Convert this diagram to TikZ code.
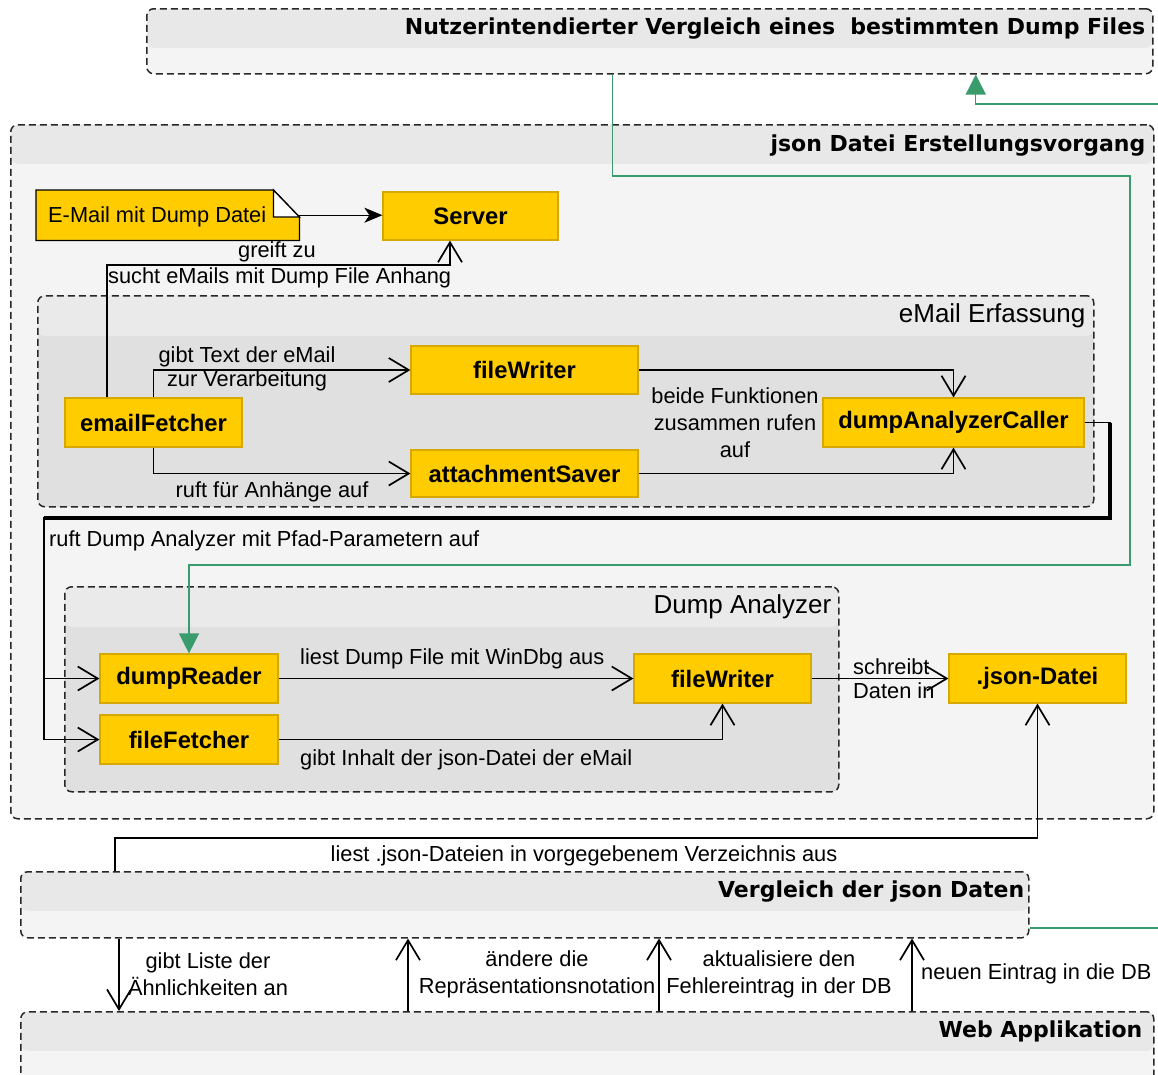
\documentclass[tikz,border=0pt]{standalone}
\usepackage{fontspec}
\setmainfont{Liberation Sans}
\newfontfamily\headfont{DejaVu Sans}
\usetikzlibrary{arrows.meta}
\definecolor{fnfill}{RGB}{255,204,0}
\definecolor{fnline}{RGB}{214,168,0}
\definecolor{grphead}{RGB}{232,232,232}
\definecolor{grpbody}{RGB}{244,244,244}
\definecolor{subhead}{RGB}{234,234,234}
\definecolor{subbody}{RGB}{224,224,224}
\definecolor{flowgreen}{RGB}{58,156,108}
\definecolor{dashgray}{RGB}{40,40,40}
\tikzset{
  grp/.style={draw=dashgray, line width=1.5pt, dash pattern=on 7pt off 4pt,
    rounded corners=7pt, inner sep=0pt, anchor=north west},
  outergrp/.style={grp, fill=grpbody, path picture={\fill[grphead]
    (path picture bounding box.north west) rectangle ([yshift=-39pt]path picture bounding box.north east);}},
  innergrp/.style={grp, fill=subbody, path picture={\fill[subhead]
    (path picture bounding box.north west) rectangle ([yshift=-40pt]path picture bounding box.north east);}},
  hd/.style={inner sep=0pt, anchor=east, font=\headfont\fontsize{22}{26}\selectfont\bfseries},
  subhd/.style={inner sep=0pt, anchor=east, font=\fontsize{26}{30}\selectfont},
  fn/.style={fill=fnfill, draw=fnline, line width=1.2pt, inner sep=0pt,
    font=\fontsize{23.8}{26}\selectfont\bfseries},
  lbl/.style={inner sep=0pt, align=center, font=\fontsize{21.8}{26}\selectfont},
  conn/.style={draw=black, line width=1.4pt, -{Straight Barb[length=20pt,width=24pt,line width=1.7pt]}},
  filledarr/.style={draw=black, line width=1.4pt, -{Stealth[length=18pt,width=15pt,inset=5pt]}},
  flow/.style={draw=flowgreen, line width=1.4pt, -{Triangle[length=20pt,width=20pt]}},
  flowline/.style={draw=flowgreen, line width=1.4pt}
}
\begin{document}
\begin{tikzpicture}[x=1pt,y=-1pt]
\useasboundingbox (0,0) rectangle (1158,1074);
\fill[white] (0,0) rectangle (1158,1074);
\clip (0,0) rectangle (1158,1074);

\node[outergrp, minimum width=1006pt, minimum height=65pt] (nutzer) at (146,8) {};
\node[outergrp, minimum width=1143pt, minimum height=694pt] (jsonproc) at (10,124) {};
\node[innergrp, minimum width=1056pt, minimum height=211pt] (mail) at (37,295) {};
\node[innergrp, minimum width=774pt, minimum height=205pt] (dump) at (64,586) {};
\node[outergrp, minimum width=1008pt, minimum height=66pt] (vgl) at (20,871) {};
\node[outergrp, minimum width=1133pt, minimum height=90pt] (web) at (20,1011) {};

\node[hd] (nutzerT) at ([xshift=-8pt,yshift=-21pt]nutzer.north east) {Nutzerintendierter Vergleich eines\ \ bestimmten Dump Files};
\node[hd] (jsonprocT) at ([xshift=-9pt,yshift=-22pt]jsonproc.north east) {json Datei Erstellungsvorgang};
\node[subhd] (mailT) at ([xshift=-9pt,yshift=-21pt]mail.north east) {eMail Erfassung};
\node[subhd] (dumpT) at ([xshift=-8pt,yshift=-21pt]dump.north east) {Dump Analyzer};
\node[hd] (vglT) at ([xshift=-5pt,yshift=-21pt]vgl.north east) {Vergleich der json Daten};
\node[hd] (webT) at ([xshift=-12pt,yshift=-20pt]web.north east) {Web Applikation};

\node[minimum width=263pt, minimum height=50pt, inner sep=0pt, anchor=north west] (note) at (36,190) {};
\filldraw[fill=fnfill, draw=black, line width=1.3pt] (note.north west) -- ([xshift=-26pt]note.north east)
  -- ([yshift=-27pt]note.north east) -- (note.south east) -- (note.south west) -- cycle;
\filldraw[fill=white, draw=black, line width=1.3pt] ([xshift=-26pt]note.north east)
  -- ([xshift=-26pt,yshift=-27pt]note.north east) -- ([yshift=-27pt]note.north east) -- cycle;
\node[lbl, anchor=west] (noteT) at ([xshift=12pt,yshift=-2pt]note.west) {E-Mail mit Dump Datei};

\node[fn, minimum width=175pt, minimum height=48pt] (server) at (470.5,216) {Server};
\node[fn, minimum width=177pt, minimum height=49pt] (emf) at (153.5,422.5) {emailFetcher};
\node[fn, minimum width=227pt, minimum height=48pt] (fw1) at (524.5,370) {fileWriter};
\node[fn, minimum width=227pt, minimum height=47pt] (att) at (524.5,473.5) {attachmentSaver};
\node[fn, minimum width=261pt, minimum height=49pt] (dac) at (953.5,422.5) {dumpAnalyzerCaller};
\node[fn, minimum width=178pt, minimum height=49pt] (drd) at (189,678.5) {dumpReader};
\node[fn, minimum width=178pt, minimum height=49pt] (ffe) at (189,739.5) {fileFetcher};
\node[fn, minimum width=177pt, minimum height=49pt] (fw2) at (722.5,678.5) {fileWriter};
\node[fn, minimum width=177pt, minimum height=49pt] (json) at (1037.5,678.5) {.json-Datei};

\draw[filledarr] (note.east) -- (note.east -| server.west);

\coordinate (srvbend) at (450,265);
\draw[conn] ([xshift=-46.5pt]emf.north) |- (srvbend) -- ([xshift=-20.5pt]server.south);
\node[lbl] (greiftT) at (277,252) {greift zu};
\node[lbl, anchor=west] (suchtT) at (108,278) {sucht eMails mit Dump File Anhang};

\draw[conn] (emf.north) |- (fw1.west);
\node[lbl, font=\fontsize{21.8}{24}\selectfont] (gibtT) at (247,369) {gibt Text der eMail\\zur Verarbeitung};
\draw[conn] (emf.south) |- (att.west);
\node[lbl] (ruftT) at (272,492) {ruft für Anhänge auf};
\draw[conn] (fw1.east) -| (dac.north);
\draw[conn] (att.east) -| (dac.south);
\node[lbl, font=\fontsize{21.8}{27}\selectfont] (beideT) at (735,423) {beide Funktionen\\zusammen rufen\\auf};

\coordinate (callR) at (1110,518);
\coordinate (callL) at (44,518);
\draw[conn] (dac.east) -| (callR) -- (callL) |- (drd.west);
\draw[conn] (dac.east) -| (callR) -- (callL) |- (ffe.west);
\draw[line width=3.2pt] (dac.east -| callR) -- (callR) -- (callL);
\node[lbl, anchor=west] (pfadT) at (49,541) {ruft Dump Analyzer mit Pfad-Parametern auf};

\draw[conn] (drd.east) -- (fw2.west);
\node[lbl, anchor=west] (liestT) at (300,659) {liest Dump File mit WinDbg aus};
\draw[conn] (ffe.east) -| (fw2.south);
\node[lbl, anchor=west] (inhaltT) at (300,760) {gibt Inhalt der json-Datei der eMail};
\draw[conn] (fw2.east) -- (json.west);
\node[lbl, anchor=west, align=left, font=\fontsize{21.8}{24}\selectfont] (schreibtT) at (853,679) {schreibt\\Daten in};

\coordinate (readbend) at (600,838);
\draw[conn] ([xshift=95pt]vgl.north west) |- (readbend) -| (json.south);
\node[lbl] (dirT) at (584,856) {liest .json-Dateien in vorgegebenem Verzeichnis aus};

\draw[conn] ([xshift=99pt]vgl.south west) -- ([xshift=99pt]web.north west);
\node[lbl, font=\fontsize{21.8}{27}\selectfont] (listeT) at (208,974) {gibt Liste der\\Ähnlichkeiten an};
\foreach \dx in {388,639,892}
  \draw[conn] ([xshift=\dx pt]web.north west) -- ([xshift=\dx pt]vgl.south west);
\node[lbl, font=\fontsize{21.8}{27}\selectfont] (notatT) at (537,974) {ändere die\\Repräsentationsnotation};
\node[lbl, font=\fontsize{21.8}{27}\selectfont] (fehlerT) at (779,974) {aktualisiere den\\Fehlereintrag in der DB};
\node[lbl, anchor=west] (neuT) at (921,974) {neuen Eintrag in die DB};

\coordinate (userIn) at (1158,104);
\draw[flow] (userIn) -| ([xshift=326pt]nutzer.south);
\coordinate (loopA) at (1130,176);
\coordinate (loopB) at (600,565);
\draw[flow] ([xshift=-37pt]nutzer.south) |- (loopA) |- (loopB) -| (drd.north);
\coordinate (vglOut) at (1158,928);
\draw[flowline] (vgl.east |- vglOut) -- (vglOut);
\end{tikzpicture}
\end{document}
